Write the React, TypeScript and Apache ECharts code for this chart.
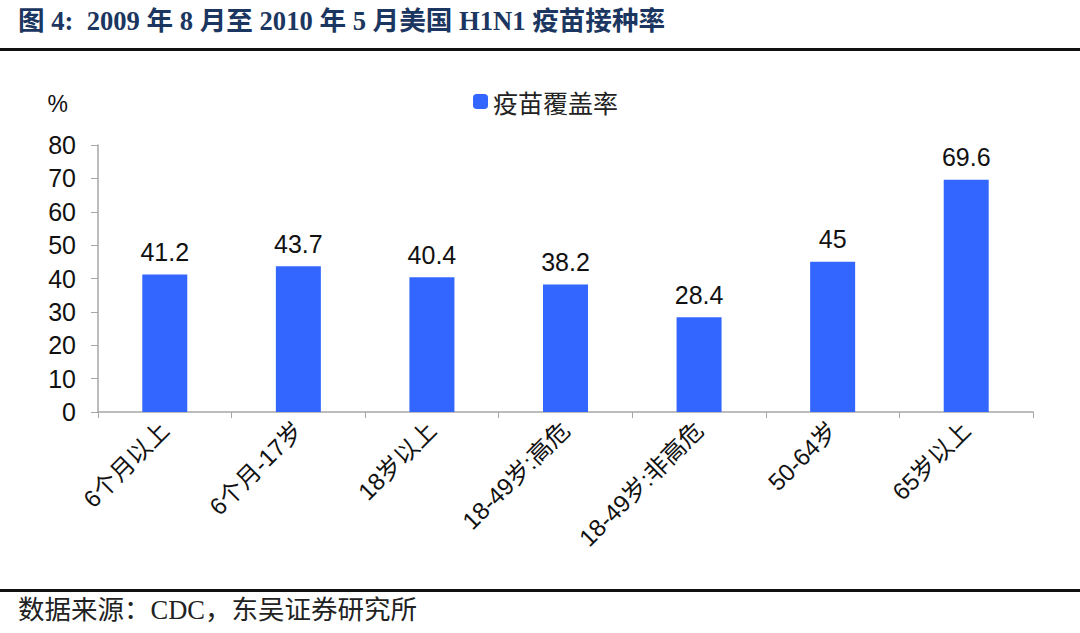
import React, { useEffect, useRef } from "react";
import * as echarts from "echarts";

const categories = ["6个月以上", "6个月-17岁", "18岁以上", "18-49岁:高危", "18-49岁:非高危", "50-64岁", "65岁以上"];
const coverage = [41.2, 43.7, 40.4, 38.2, 28.4, 45, 69.6];
const seriesName = "疫苗覆盖率";
const titleText = "图 4:  2009 年 8 月至 2010 年 5 月美国 H1N1 疫苗接种率";
const sourceText = "数据来源：CDC，东吴证券研究所";

export default function App() {
  const ref = useRef<HTMLDivElement>(null);
  useEffect(() => {
    if (!ref.current) return;
    const chart = echarts.init(ref.current, undefined, { renderer: "svg" });
    chart.setOption({
      animation: false,
      backgroundColor: "#ffffff",
      legend: {
        data: [seriesName],
        top: 84,
        left: 468,
        itemWidth: 15,
        itemHeight: 15,
        itemGap: 6,
        icon: "roundRect",
        textStyle: { fontSize: 25, color: "#222", fontFamily: "Noto Sans CJK SC" },
      },
      grid: { left: 98, right: 47, top: 145, bottom: 221, containLabel: false },
      xAxis: {
        type: "category",
        data: categories,
        axisLine: { lineStyle: { color: "#a6a6a6", width: 1.5 } },
        axisTick: { show: true, length: 6, alignWithLabel: false, lineStyle: { color: "#a6a6a6" } },
        axisLabel: {
          rotate: 45,
          interval: 0,
          margin: 14,
          fontSize: 24,
          color: "#111",
          fontFamily: "Liberation Sans, Noto Sans CJK SC",
        },
      },
      yAxis: {
        type: "value",
        min: 0,
        max: 80,
        interval: 10,
        name: "%",
        nameLocation: "end",
        nameGap: 30,
        nameTextStyle: { fontSize: 23, color: "#111", fontFamily: "Liberation Sans", align: "right", padding: [0, 30, 0, 0] },
        splitLine: { show: false },
        axisLine: { show: true, lineStyle: { color: "#a6a6a6", width: 1.5 } },
        axisTick: { show: true, length: 7, lineStyle: { color: "#a6a6a6" } },
        axisLabel: { fontSize: 25, color: "#111", margin: 22, fontFamily: "Liberation Sans" },
      },
      series: [
        {
          name: seriesName,
          type: "bar",
          data: coverage,
          barWidth: 45,
          itemStyle: { color: "#3366ff" },
          label: {
            show: true,
            position: "top",
            distance: 10,
            fontSize: 25,
            color: "#111",
            fontFamily: "Liberation Sans",
          },
        },
      ],
      graphic: [
        {
          type: "text",
          left: 18,
          top: 8,
          style: {
            text: titleText,
            fontSize: 26.6,
            fontWeight: "bold",
            fill: "#1b3660",
            fontFamily: "Liberation Serif, Noto Sans CJK SC",
          },
        },
        { type: "rect", shape: { x: 0, y: 48, width: 1080, height: 3 }, style: { fill: "#111" } },
        { type: "rect", shape: { x: 0, y: 589, width: 1080, height: 3 }, style: { fill: "#111" } },
        {
          type: "text",
          left: 18,
          top: 597,
          style: {
            text: sourceText,
            fontSize: 26.5,
            fill: "#222",
            fontFamily: "Liberation Serif, Noto Sans CJK SC",
          },
        },
      ],
    });
    return () => chart.dispose();
  }, []);
  return <div ref={ref} style={{ width: 1080, height: 633, position: "absolute", left: 0, top: 0 }} />;
}
